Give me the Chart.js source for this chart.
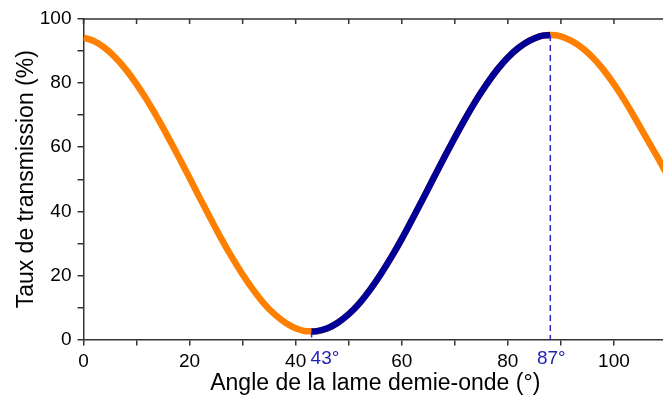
<!DOCTYPE html>
<html>
<head>
<meta charset="utf-8">
<script src="https://cdn.jsdelivr.net/npm/chart.js@4"></script>
<style>
  html, body { margin: 0; padding: 0; background: #fff; overflow: hidden; }
  #wrap { position: relative; width: 672px; height: 401px; }
</style>
</head>
<body>
<div id="wrap"><canvas id="transChart"></canvas></div>
<script>
// angle of the half-wave plate (deg) and transmission (%)
const angles = [0, 2, 4, 6, 8, 10, 12, 14, 16, 18, 20, 22, 24, 26, 28, 30, 32, 34, 36, 38, 40, 42,
    44, 46, 48, 50, 52, 54, 56, 58, 60, 62, 64, 66, 68, 70, 72, 74, 76, 78, 80, 82, 84, 86,
    88, 90, 92, 94, 96, 98, 100, 102, 104, 106, 108, 110];
const transmission = [94.2, 93.1, 91.0, 88.0, 84.2, 79.7, 74.6, 69.0, 63.0, 56.8, 50.4, 43.9, 37.6, 31.4, 25.6, 20.3, 15.5, 11.3, 7.9, 5.3, 3.5, 2.6,
    2.6, 3.5, 5.3, 7.9, 11.3, 15.5, 20.3, 25.6, 31.4, 37.6, 43.9, 50.4, 56.8, 63.0, 69.0, 74.6, 79.7, 84.2, 88.0, 91.0, 93.2, 94.6,
    95.0, 94.6, 93.2, 91.0, 88.0, 84.2, 79.7, 74.6, 69.0, 63.2, 57.5, 51.5];

// marked range: minimum and maximum of transmission
const minAngle = 43, minValue = 2.5, minLabel = "43°";
const maxAngle = 88, maxValue = 95.0, maxLabel = "87°";

const xTicks = [0, 20, 40, 60, 80, 100];
const yTicks = [0, 20, 40, 60, 80, 100];

const orange = "#ff8000";
const navy = "#000099";
const dashBlue = "#2a2ac8";
const labelBlue = "#1f1fb4";
const axisColor = "#333";
const fontFamily = "'Liberation Sans', Arial, sans-serif";

const allPoints = angles.map((a, i) => ({x: a, y: transmission[i]}));
const bluePoints = [{x: minAngle, y: minValue}].concat(
    allPoints.filter(p => p.x > minAngle && p.x <= maxAngle));

// top frame line with inward ticks, plus the blue angle labels
const frame = {
    id: "frame",
    afterDatasetsDraw(chart) {
        const {ctx, chartArea, scales: {x}} = chart;
        ctx.save();
        ctx.strokeStyle = axisColor;
        ctx.lineWidth = 1.5;
        ctx.beginPath();
        ctx.moveTo(chartArea.left, chartArea.top);
        ctx.lineTo(chartArea.right + 2, chartArea.top);
        x.ticks.forEach(t => {
            const px = x.getPixelForValue(t.value);
            ctx.moveTo(px, chartArea.top);
            ctx.lineTo(px, chartArea.top + 5);
        });
        ctx.stroke();

        ctx.fillStyle = labelBlue;
        ctx.font = "19px " + fontFamily;
        ctx.textBaseline = "middle";
        const ly = chartArea.bottom + 19;
        ctx.textAlign = "left";
        ctx.fillText(minLabel, x.getPixelForValue(minAngle) - 1, ly);
        ctx.textAlign = "center";
        ctx.fillText(maxLabel, x.getPixelForValue(maxAngle) + 1, ly);
        ctx.restore();
    }
};

const ctx = document.getElementById("transChart").getContext("2d");

new Chart(ctx, {
    type: "line",
    data: {
        datasets: [
            {
                data: [{x: maxAngle, y: maxValue}, {x: maxAngle, y: 0}],
                borderColor: dashBlue,
                borderWidth: 1.5,
                borderDash: [6, 4],
                pointRadius: 0
            },
            {
                data: [{x: minAngle, y: minValue}, {x: minAngle, y: 0}],
                borderColor: dashBlue,
                borderWidth: 1.5,
                borderDash: [6, 4],
                pointRadius: 0
            },
            {
                data: bluePoints,
                borderColor: navy,
                borderWidth: 6.5,
                pointRadius: 0,
                cubicInterpolationMode: "monotone"
            },
            {
                data: allPoints,
                borderColor: orange,
                borderWidth: 6.5,
                pointRadius: 0,
                cubicInterpolationMode: "monotone"
            }
        ]
    },
    options: {
        responsive: true,
        maintainAspectRatio: false,
        animation: false,
        layout: {padding: {top: 19, right: 0, bottom: 0, left: 0}},
        plugins: {
            legend: {display: false},
            tooltip: {enabled: false}
        },
        scales: {
            x: {
                type: "linear",
                min: 0,
                max: 110,
                afterFit: s => { s.height = 61.5; },
                border: {display: true, color: axisColor, width: 1.5},
                grid: {drawOnChartArea: false, drawTicks: true, tickLength: 6, color: axisColor, lineWidth: 1.5},
                ticks: {
                    stepSize: 10,
                    autoSkip: false,
                    maxRotation: 0,
                    padding: 5,
                    color: "#000",
                    font: {family: fontFamily, size: 19},
                    callback: v => xTicks.includes(v) ? String(v) : ""
                },
                title: {
                    display: true,
                    text: "Angle de la lame demie-onde (°)",
                    color: "#000",
                    font: {family: fontFamily, size: 23},
                    padding: {top: 0, bottom: 4}
                }
            },
            y: {
                min: 0,
                max: 100,
                afterFit: s => { s.width = 83.5; },
                border: {display: true, color: axisColor, width: 1.5},
                grid: {drawOnChartArea: false, drawTicks: true, tickLength: 6, color: axisColor, lineWidth: 1.5},
                ticks: {
                    stepSize: 10,
                    autoSkip: false,
                    padding: 6,
                    color: "#000",
                    font: {family: fontFamily, size: 19},
                    callback: v => yTicks.includes(v) ? String(v) : ""
                },
                title: {
                    display: true,
                    text: "Taux de transmission (%)",
                    color: "#000",
                    font: {family: fontFamily, size: 23},
                    padding: {top: 13, bottom: 0}
                }
            }
        }
    },
    plugins: [frame]
});
</script>
</body>
</html>
